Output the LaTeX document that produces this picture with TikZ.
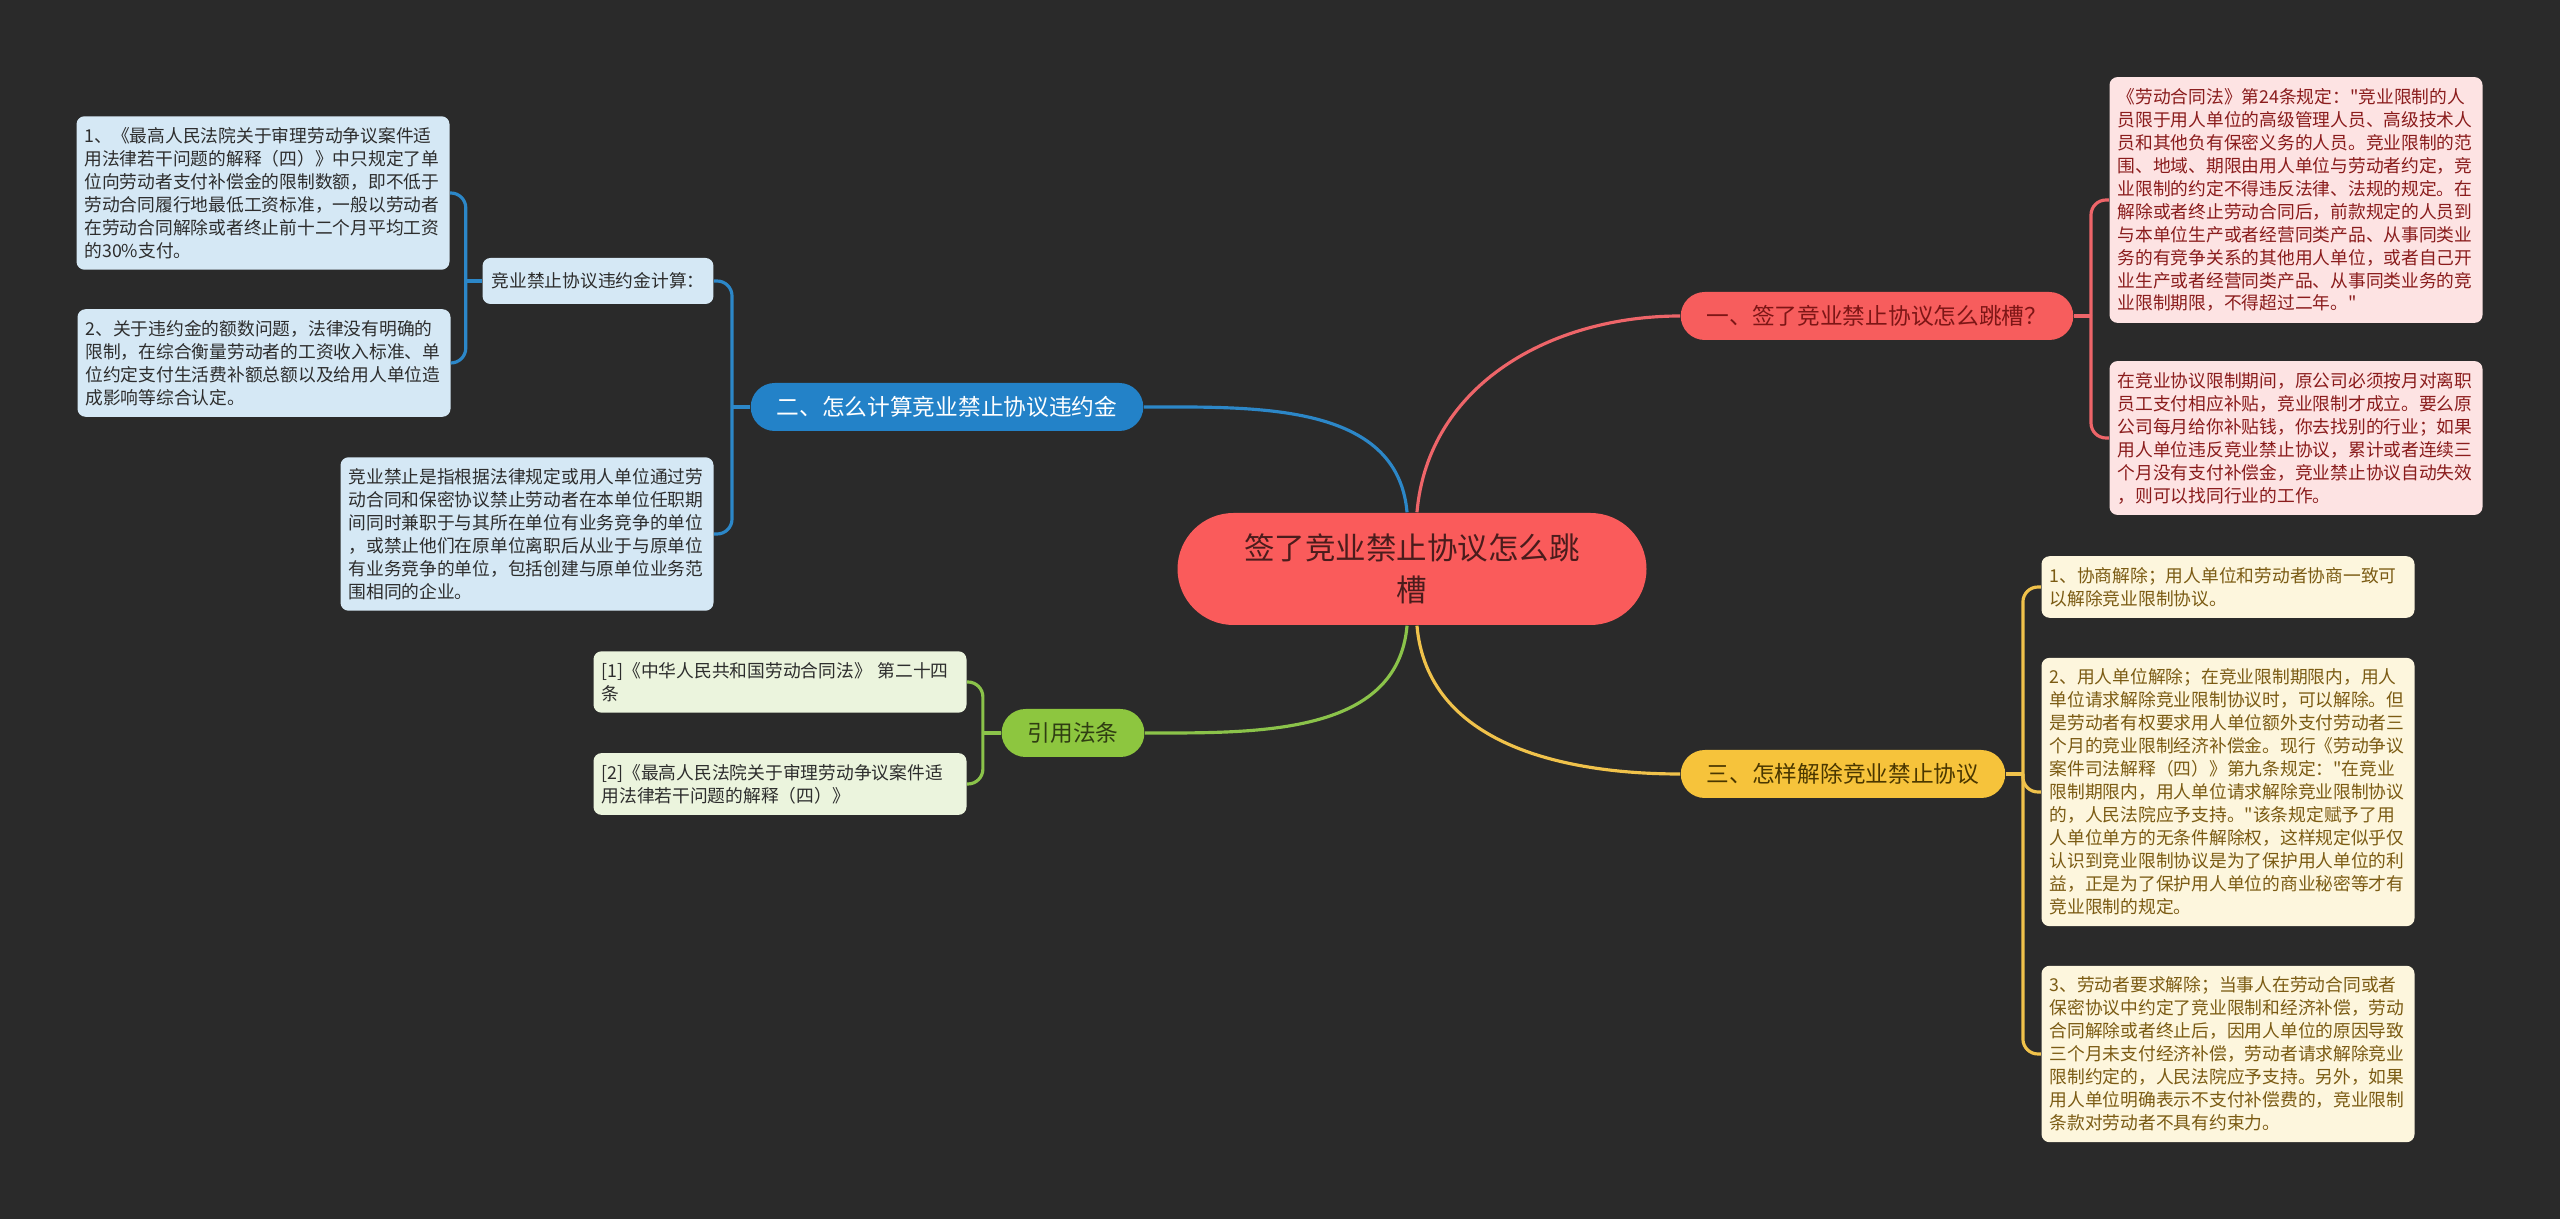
\documentclass[tikz,border=0pt]{standalone}
\usepackage{fontspec}
\setmainfont{Noto Sans CJK SC}[Ligatures=TeXOff]
\usepackage{tikz}
\usetikzlibrary{calc}
\definecolor{bgdark}{HTML}{2A2A2A}
\definecolor{rootred}{HTML}{FA5B5B}
\definecolor{roottext}{HTML}{4A1C1C}
\definecolor{topicred}{HTML}{F75D5D}
\definecolor{redtext}{HTML}{7D1616}
\definecolor{redline}{HTML}{EE6569}
\definecolor{topicblue}{HTML}{2382C8}
\definecolor{blueline}{HTML}{2C87C8}
\definecolor{topicyellow}{HTML}{F6C33B}
\definecolor{yellowtext}{HTML}{4A3700}
\definecolor{yellowline}{HTML}{F0C24B}
\definecolor{topicgreen}{HTML}{8DC63F}
\definecolor{greentext}{HTML}{2F3D12}
\definecolor{greenline}{HTML}{8BC34A}
\definecolor{leafblue}{HTML}{D5E8F5}
\definecolor{leafred}{HTML}{FDE3E3}
\definecolor{leafredtext}{HTML}{8A1C1C}
\definecolor{leafyellow}{HTML}{FDF6DD}
\definecolor{leafyellowtext}{HTML}{7B5B13}
\definecolor{leafgreen}{HTML}{EBF4DD}
\definecolor{leaftext}{HTML}{2D2D2D}

\begin{document}
\begin{tikzpicture}[
  hub/.style={rounded corners=0.56cm, minimum width=4.69cm, minimum height=1.12cm,
    align=center, fill=rootred, text=roottext, font=\fontsize{8.68pt}{11.95pt}\selectfont},
  topic/.style={rounded corners=0.24cm, minimum height=0.48cm, inner xsep=0.26cm,
    font=\fontsize{6.46pt}{7pt}\selectfont},
  leaf/.style={rounded corners=0.08cm, text width=3.57cm, align=left, inner xsep=0.08cm,
    inner ysep=0.11cm, text=leaftext, font=\fontsize{5.05pt}{6.54pt}\selectfont},
  link/.style={line width=0.9pt},
  bracket/.style={line width=0.9pt, rounded corners=0.15cm}]
\fill[bgdark] (0,0) rectangle (25.6,-12.19);
% centre and main topics
\node[hub] (root) at (14.12,-5.69) {签了竞业禁止协议怎么跳\\槽};
\node[topic,fill=topicred,text=redtext] (jump) at (18.77,-3.16) {一、签了竞业禁止协议怎么跳槽？};
\node[topic,fill=topicblue,text=white] (penalty) at (9.47,-4.07) {二、怎么计算竞业禁止协议违约金};
\node[topic,fill=topicyellow,text=yellowtext] (cancel) at (18.43,-7.74) {三、怎样解除竞业禁止协议};
\node[topic,fill=topicgreen,text=greentext] (cite) at (10.73,-7.33) {引用法条};
% right side, red
\node[leaf,fill=leafred,text=leafredtext] (law) at (22.96,-2.00) {《劳动合同法》第24条规定："竞业限制的人\\
员限于用人单位的高级管理人员、高级技术人\\
员和其他负有保密义务的人员。竞业限制的范\\
围、地域、期限由用人单位与劳动者约定，竞\\
业限制的约定不得违反法律、法规的规定。在\\
解除或者终止劳动合同后，前款规定的人员到\\
与本单位生产或者经营同类产品、从事同类业\\
务的有竞争关系的其他用人单位，或者自己开\\
业生产或者经营同类产品、从事同类业务的竞\\
业限制期限，不得超过二年。"};
\node[leaf,fill=leafred,text=leafredtext] (subsidy) at (22.96,-4.38) {在竞业协议限制期间，原公司必须按月对离职\\
员工支付相应补贴，竞业限制才成立。要么原\\
公司每月给你补贴钱，你去找别的行业；如果\\
用人单位违反竞业禁止协议，累计或者连续三\\
个月没有支付补偿金，竞业禁止协议自动失效\\
，则可以找同行业的工作。};
% right side, yellow
\node[leaf,fill=leafyellow,text=leafyellowtext] (agree) at (22.28,-5.87) {1、协商解除；用人单位和劳动者协商一致可\\
以解除竞业限制协议。};
\node[leaf,fill=leafyellow,text=leafyellowtext] (employer) at (22.28,-7.92) {2、用人单位解除；在竞业限制期限内，用人\\
单位请求解除竞业限制协议时，可以解除。但\\
是劳动者有权要求用人单位额外支付劳动者三\\
个月的竞业限制经济补偿金。现行《劳动争议\\
案件司法解释（四）》第九条规定："在竞业\\
限制期限内，用人单位请求解除竞业限制协议\\
的，人民法院应予支持。"该条规定赋予了用\\
人单位单方的无条件解除权，这样规定似乎仅\\
认识到竞业限制协议是为了保护用人单位的利\\
益，正是为了保护用人单位的商业秘密等才有\\
竞业限制的规定。};
\node[leaf,fill=leafyellow,text=leafyellowtext] (worker) at (22.28,-10.54) {3、劳动者要求解除；当事人在劳动合同或者\\
保密协议中约定了竞业限制和经济补偿，劳动\\
合同解除或者终止后，因用人单位的原因导致\\
三个月未支付经济补偿，劳动者请求解除竞业\\
限制约定的，人民法院应予支持。另外，如果\\
用人单位明确表示不支付补偿费的，竞业限制\\
条款对劳动者不具有约束力。};
% left side, blue
\node[leaf,fill=leafblue,text width=,inner xsep=0.09cm,minimum height=0.46cm] (calcpay) at (5.98,-2.81) {竞业禁止协议违约金计算：};
\node[leaf,fill=leafblue] (limit) at (2.63,-1.93) {1、《最高人民法院关于审理劳动争议案件适\\
用法律若干问题的解释（四）》中只规定了单\\
位向劳动者支付补偿金的限制数额，即不低于\\
劳动合同履行地最低工资标准，一般以劳动者\\
在劳动合同解除或者终止前十二个月平均工资\\
的30\%支付。};
\node[leaf,fill=leafblue] (amount) at (2.64,-3.63) {2、关于违约金的额数问题，法律没有明确的\\
限制，在综合衡量劳动者的工资收入标准、单\\
位约定支付生活费补额总额以及给用人单位造\\
成影响等综合认定。};
\node[leaf,fill=leafblue] (define) at (5.27,-5.34) {竞业禁止是指根据法律规定或用人单位通过劳\\
动合同和保密协议禁止劳动者在本单位任职期\\
间同时兼职于与其所在单位有业务竞争的单位\\
，或禁止他们在原单位离职后从业于与原单位\\
有业务竞争的单位，包括创建与原单位业务范\\
围相同的企业。};
% left side, green
\node[leaf,fill=leafgreen] (ref1) at (7.80,-6.82) {[1]《中华人民共和国劳动合同法》 第二十四\\
条};
\node[leaf,fill=leafgreen] (ref2) at (7.80,-7.84) {[2]《最高人民法院关于审理劳动争议案件适\\
用法律若干问题的解释（四）》};
% connectors
\draw[link,redline] (root) to[out=85,in=180] (jump.west);
\draw[link,blueline] (root) to[out=95,in=0] (penalty.east);
\draw[link,yellowline] (root) to[out=-85,in=180] (cancel.west);
\draw[link,greenline] (root) to[out=-95,in=0] (cite.east);
\draw[link,redline] (jump.east) -- ++(0.17,0) coordinate (jred);
\foreach \n in {law,subsidy} \draw[bracket,redline] (jred) |- (\n.west);
\draw[link,yellowline] (cancel.east) -- ++(0.17,0) coordinate (jyel);
\foreach \n in {agree,employer,worker} \draw[bracket,yellowline] (jyel) |- (\n.west);
\draw[link,blueline] (penalty.west) -- ++(-0.18,0) coordinate (jblue);
\foreach \n in {calcpay,define} \draw[bracket,blueline] (jblue) |- (\n.east);
\draw[link,blueline] (calcpay.west) -- ++(-0.16,0) coordinate (jcalc);
\foreach \n in {limit,amount} \draw[bracket,blueline] (jcalc) |- (\n.east);
\draw[link,greenline] (cite.west) -- ++(-0.18,0) coordinate (jgreen);
\foreach \n in {ref1,ref2} \draw[bracket,greenline] (jgreen) |- (\n.east);
\end{tikzpicture}
\end{document}
